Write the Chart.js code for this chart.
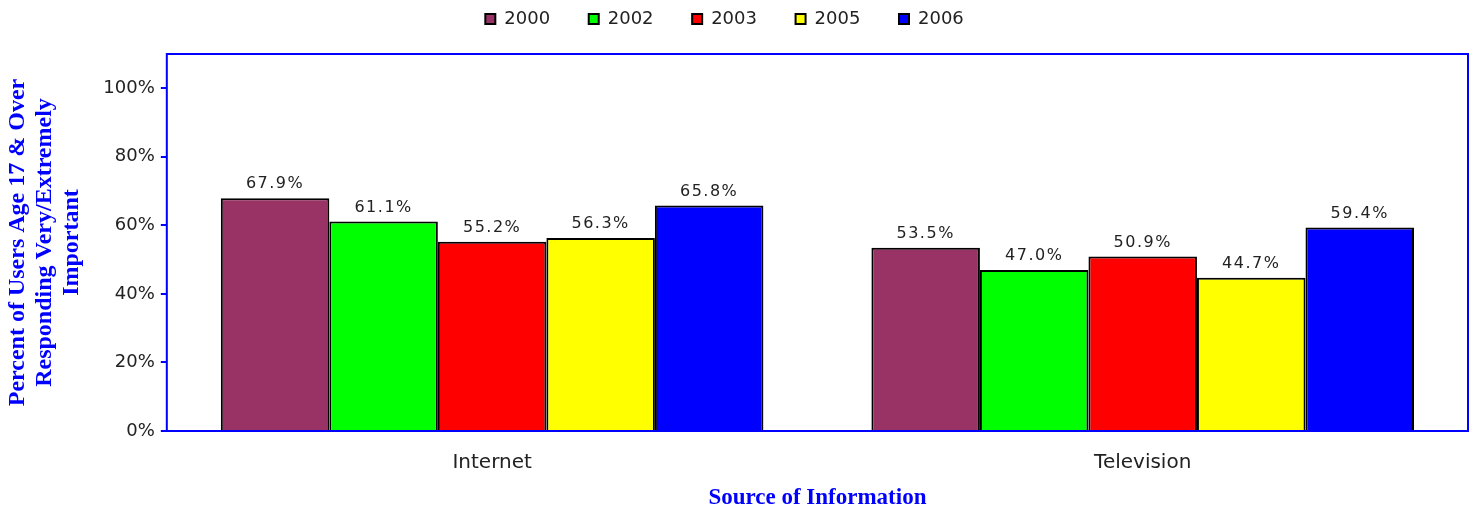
<!DOCTYPE html>
<html>
<head>
<meta charset="utf-8">
<script src="https://cdn.jsdelivr.net/npm/chart.js@4"></script>
<style>
  html, body { margin: 0; padding: 0; background: #fff; }
  #wrap { width: 1476px; height: 512px; position: relative; }
</style>
</head>
<body>
<div id="wrap"><canvas id="myChart"></canvas></div>
<script>
const categories = ['Internet', 'Television'];
const years = ['2000', '2002', '2003', '2005', '2006'];
const values2000 = [67.9, 53.5];
const values2002 = [61.1, 47.0];
const values2003 = [55.2, 50.9];
const values2005 = [56.3, 44.7];
const values2006 = [65.8, 59.4];
const yTicks = [0, 20, 40, 60, 80, 100];

const seriesValues = [values2000, values2002, values2003, values2005, values2006];
const colors = ['#993366', '#00FF00', '#FF0000', '#FFFF00', '#0000FF'];

// value labels above each bar
const barLabels = {
    id: 'barLabels',
    afterDatasetsDraw(chart) {
        const ctx = chart.ctx;
        ctx.save();
        ctx.font = '16px "DejaVu Sans"';
        ctx.fillStyle = '#222';
        ctx.textAlign = 'center';
        ctx.textBaseline = 'bottom';
        ctx.letterSpacing = '1.5px';
        chart.data.datasets.forEach((ds, i) => {
            chart.getDatasetMeta(i).data.forEach((bar, j) => {
                ctx.fillText(ds.data[j].toFixed(1) + '%', bar.x, bar.y - 6);
            });
        });
        ctx.restore();
    }
};

// blue frame around the plot area
const plotFrame = {
    id: 'plotFrame',
    afterDraw(chart) {
        const a = chart.chartArea;
        const ctx = chart.ctx;
        ctx.save();
        ctx.strokeStyle = '#0000FF';
        ctx.lineWidth = 2;
        ctx.strokeRect(a.left, a.top, a.right - a.left, a.bottom - a.top);
        ctx.restore();
    }
};

// extra room under the legend
const legendMargin = {
    id: 'legendMargin',
    beforeInit(chart) {
        const fit = chart.legend.fit;
        chart.legend.fit = function () {
            fit.bind(chart.legend)();
            this.height += 16;
        };
    }
};

const ctx = document.getElementById('myChart');
new Chart(ctx, {
    type: 'bar',
    data: {
        labels: categories,
        datasets: years.map((y, i) => ({
            label: y,
            data: seriesValues[i],
            backgroundColor: colors[i],
            borderColor: '#000',
            borderWidth: 2,
            categoryPercentage: 0.834,
            barPercentage: 1.0
        }))
    },
    options: {
        responsive: true,
        maintainAspectRatio: false,
        animation: false,
        layout: { padding: { left: 4, right: 8, top: 0, bottom: 0 } },
        plugins: {
            legend: {
                position: 'top',
                labels: {
                    boxWidth: 10,
                    boxHeight: 10,
                    padding: 10,
                    color: '#222',
                    font: { family: '"DejaVu Sans"', size: 18 },
                    generateLabels(chart) {
                        const items = Chart.defaults.plugins.legend.labels.generateLabels(chart);
                        items.forEach((it, i) => {
                            it.text = it.text + (i < items.length - 1 ? '     ' : '    ');
                            it.strokeStyle = '#000';
                            it.lineWidth = 2;
                        });
                        return items;
                    }
                }
            },
            tooltip: { enabled: false }
        },
        scales: {
            x: {
                afterFit(axis) {
                    axis.height = 81;
                },
                grid: { display: false },
                border: { display: false },
                ticks: {
                    color: '#222',
                    padding: 12,
                    font: { family: '"DejaVu Sans"', size: 20 }
                },
                title: {
                    display: true,
                    text: 'Source of Information',
                    color: '#0000FF',
                    font: { family: '"Liberation Serif"', size: 23, weight: 'bold' },
                    padding: { top: 0, bottom: 0 }
                }
            },
            y: {
                min: 0,
                max: 110,
                afterBuildTicks(axis) {
                    axis.ticks = yTicks.map(v => ({ value: v }));
                },
                grid: {
                    drawOnChartArea: false,
                    color: '#0000FF',
                    lineWidth: 2,
                    tickLength: 6
                },
                border: { display: false },
                ticks: {
                    color: '#222',
                    padding: 6,
                    font: { family: '"DejaVu Sans"', size: 18 },
                    callback: (v) => v + '%'
                },
                title: {
                    display: true,
                    text: ['Percent of Users Age 17 & Over', 'Responding Very/Extremely', 'Important'],
                    color: '#0000FF',
                    font: { family: '"Liberation Serif"', size: 24, weight: 'bold', lineHeight: 1.13 },
                    padding: { top: 0, bottom: 12 }
                }
            }
        }
    },
    plugins: [barLabels, plotFrame, legendMargin]
});
</script>
</body>
</html>
